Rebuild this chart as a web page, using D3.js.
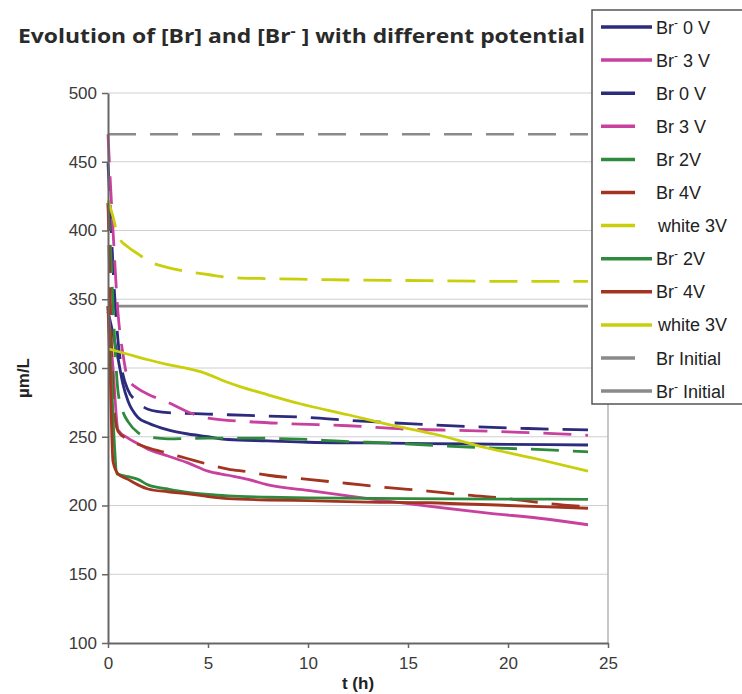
<!DOCTYPE html>
<html><head><meta charset="utf-8">
<script src="https://cdn.jsdelivr.net/npm/d3@7"></script>
<style>body{margin:0;background:#fff}svg{display:block}</style>
</head><body>
<svg id="c" width="742" height="694"></svg>
<script>
// ---- data (t in h, concentration in µm/L) ----
const xTicks = [0, 5, 10, 15, 20, 25];
const yTicks = [100, 150, 200, 250, 300, 350, 400, 450, 500];

const brMinus0V = [[0,341],[0.25,325],[0.5,307],[0.75,288],[1,276],[1.5,264],[2,260],[3,255],[4,252],[5,250],[6,248],[8,247],[10,246],[13,245.5],[16,245],[20,244.5],[24,244]];
const brMinus3V = [[0,345],[0.25,300],[0.5,255],[1,249],[1.5,245],[2,241],[3,236],[4,231],[5,225],[6,222],[7,219],[8,215],[10,211],[13,205],[16,199.5],[19,194.5],[22,190],[24,186]];
const br0V = [[0,449],[0.1,420],[0.3,360],[0.5,320],[0.75,295],[1,284],[1.5,275],[2,270],[3,267.5],[5,266.5],[7,265.5],[10,264],[12,262],[15,259.5],[18,257.5],[21,256],[24,255]];
const br3V = [[0,470],[0.1,440],[0.25,400],[0.5,340],[0.75,310],[1,292],[1.5,285],[2,281],[3,275],[4,268],[5,263.5],[7,261],[9,259.5],[12,258],[15,255.5],[18,254.5],[20,253.5],[22,252.5],[24,251]];
const br2V = [[0,420],[0.15,380],[0.3,330],[0.5,283],[0.75,268],[1,261],[1.5,253],[2,250],[3,248.5],[5,249],[7,249],[10,248],[12,246.5],[14,245.5],[16,244],[18,242.5],[20,241.5],[22,240.5],[24,239]];
const br4V = [[0,420],[0.15,330],[0.3,270],[0.5,254],[1,248],[1.5,244.5],[2,242],[3,238],[4,234],[5,230],[6,226.5],[7,224.5],[8,222],[10,219],[12,216],[14,213],[16,210.5],[18,207.5],[20,205],[22,201.5],[24,199]];
const white3VBr = [[0,422],[0.25,410],[0.5,396],[1,388],[1.5,383],[2,378],[3,373],[4,370],[5,368],[6,366],[8,365],[10,364.5],[12,364],[16,363.5],[20,363],[24,363]];
const brMinus2V = [[0,345],[0.15,300],[0.3,250],[0.45,223],[1,221],[1.5,219],[2,215],[3,212],[4,209.5],[5,208],[6,207],[8,206],[10,205.5],[15,205],[20,204.7],[24,204.5]];
const brMinus4V = [[0,345],[0.1,300],[0.25,232],[0.5,223],[1,219],[1.5,215],[2,212],[3,210],[4,208.5],[5,206.5],[6,205],[8,204],[10,203.5],[13,202.5],[16,202],[20,200],[24,198]];
const white3VBrMinus = [[0,314],[1,310],[2,306],[3,302.5],[4,299.5],[4.8,296.5],[5.9,290],[6.6,286.5],[8,280.5],[9.6,274],[12,266],[14,259],[16.3,252],[18.9,242],[21.4,234],[24,225]];
const brInitial = [[0,470],[24,470]];
const brMinusInitial = [[0,345],[24,345]];

const seriesNames = ["Br¯ 0 V","Br¯ 3 V","Br 0 V","Br 3 V","Br 2V","Br 4V","white 3V","Br¯ 2V","Br¯ 4V","white 3V","Br Initial","Br¯ Initial"];
const seriesData = [brMinus0V, brMinus3V, br0V, br3V, br2V, br4V, white3VBr, brMinus2V, brMinus4V, white3VBrMinus, brInitial, brMinusInitial];
const seriesColors = ["#2d2b7d","#c8419e","#2d2b7d","#c8419e","#2e8b3e","#a33520","#c9cf0a","#2e8b3e","#a33520","#c9cf0a","#8a8a8a","#8a8a8a"];
const seriesDashed = [false,false,true,true,true,true,true,false,false,false,true,false];
const titleText = "Evolution of [Br] and [Br¯ ] with different potential";

// ---- drawing ----
const svg = d3.select("#c");
const x = d3.scaleLinear().domain([0, 25]).range([108, 608]);
const y = d3.scaleLinear().domain([100, 500]).range([643, 93]);

// writes a label, drawing "¯" as a small raised bar
function richText(sel, str, supSize, rise) {
  const parts = str.split("¯");
  parts.forEach((p, k) => {
    if (k > 0) {
      sel.append("tspan").attr("dy", -rise).style("font-size", supSize + "px").text("-");
      sel.append("tspan").attr("dy", rise).text(p);
    } else {
      sel.append("tspan").text(p);
    }
  });
}

// gridlines
svg.append("g").selectAll("line").data(yTicks.filter(v => v > 100)).join("line")
  .attr("x1", x(0)).attr("x2", x(25))
  .attr("y1", d => y(d)).attr("y2", d => y(d))
  .attr("stroke", "#cfcfcf").attr("stroke-width", 1.2);
// right border
svg.append("line").attr("x1", x(25)).attr("x2", x(25)).attr("y1", y(500)).attr("y2", y(100))
  .attr("stroke", "#b5b5b5").attr("stroke-width", 1.5);

const line = d3.line().x(d => x(d[0])).y(d => y(d[1])).curve(d3.curveMonotoneX);
const order = [10, 11, 0, 1, 2, 3, 4, 5, 6, 7, 8, 9];
svg.append("g").selectAll("path").data(order).join("path")
  .attr("d", i => line(seriesData[i]))
  .attr("fill", "none")
  .attr("stroke", i => seriesColors[i])
  .attr("stroke-width", i => i >= 10 ? 2.6 : 2.8)
  .attr("stroke-dasharray", i => seriesDashed[i] ? "28,14" : null);

// axes
const gx = svg.append("g").attr("transform", `translate(0,${y(100)})`)
  .call(d3.axisBottom(x).tickValues(xTicks).tickSize(5).tickPadding(5).tickSizeOuter(0));
const gy = svg.append("g").attr("transform", `translate(${x(0)},0)`)
  .call(d3.axisLeft(y).tickValues(yTicks).tickSize(6).tickPadding(5).tickSizeOuter(0));
[gx, gy].forEach(g => {
  g.select(".domain").attr("stroke", "#666").attr("stroke-width", 2);
  g.selectAll(".tick line").attr("stroke", "#666").attr("stroke-width", 1.5);
  g.selectAll(".tick text").attr("fill", "#3a3a3a")
    .style("font-family", "'Liberation Sans', Arial, sans-serif").style("font-size", "17px");
});
gx.selectAll(".tick text").attr("dy", "0.95em");

// axis titles
svg.append("text").attr("x", 358).attr("y", 689).attr("text-anchor", "middle")
  .style("font-family", "'Liberation Sans', Arial, sans-serif").style("font-size", "17px").style("font-weight", "bold")
  .attr("fill", "#222").text("t (h)");
svg.append("text").attr("transform", "translate(29,378) rotate(-90)").attr("text-anchor", "middle")
  .style("font-family", "'Liberation Sans', Arial, sans-serif").style("font-size", "17px").style("font-weight", "bold")
  .attr("fill", "#222").text("µm/L");

// title
const title = svg.append("text").attr("x", 18).attr("y", 43)
  .attr("textLength", 567).attr("lengthAdjust", "spacingAndGlyphs")
  .style("font-family", "'Open Sans', sans-serif").style("font-size", "20px").style("font-weight", "bold")
  .attr("fill", "#2a2a2a");
richText(title, titleText, 14, 7);

// legend
const lg = svg.append("g");
lg.append("rect").attr("x", 592).attr("y", 10).attr("width", 160).attr("height", 394)
  .attr("fill", "#fff").attr("stroke", "#555").attr("stroke-width", 1.5);
const items = lg.selectAll("g.it").data(seriesNames.map((n, i) => i)).join("g").attr("class", "it")
  .attr("transform", i => `translate(0,${27 + i * 33.1})`);
items.append("line").attr("x1", 601).attr("x2", i => seriesDashed[i] ? 635 : 652)
  .attr("y1", 0).attr("y2", 0)
  .attr("stroke", i => seriesColors[i]).attr("stroke-width", 3.5);
items.append("text").attr("x", i => seriesNames[i] === "white 3V" ? 658 : 656).attr("y", 6.5)
  .style("font-family", "'Liberation Sans', Arial, sans-serif").style("font-size", "18px")
  .attr("fill", "#222").each(function(i) { richText(d3.select(this), seriesNames[i], 12, 7); });
</script>
</body></html>
